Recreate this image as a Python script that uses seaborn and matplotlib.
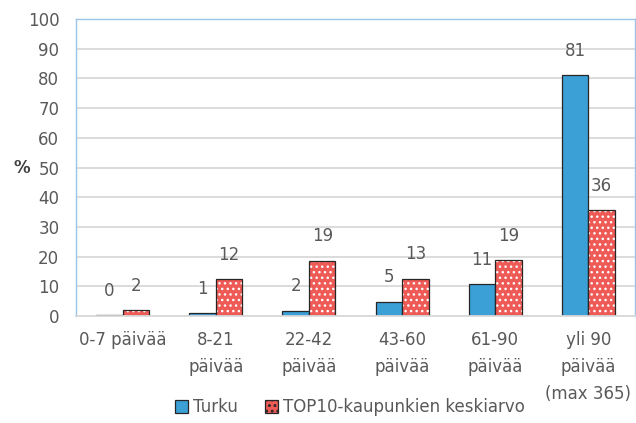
import pandas as pd
import numpy as np
import seaborn as sns
import matplotlib.pyplot as plt
from matplotlib.patches import Rectangle, Patch

# categories and values
categories = ['0-7 päivää', '8-21\npäivää', '22-42\npäivää', '43-60\npäivää',
              '61-90\npäivää', 'yli 90\npäivää\n(max 365)']
turku = [0.2, 1.0, 1.8, 4.8, 10.8, 81.0]
top10 = [2.0, 12.3, 18.6, 12.6, 18.7, 35.6]
series = ['Turku', 'TOP10-kaupunkien keskiarvo']

data = pd.DataFrame({
    'kategoria': categories * 2,
    'arvo': turku + top10,
    'sarja': [series[0]] * len(categories) + [series[1]] * len(categories),
})

sns.set_style('white')
plt.rcParams['font.family'] = ['DejaVu Sans']
text_color = '#595959'
blue = '#3AA0D6'
red = '#EE5A55'

fig = plt.figure(figsize=(6.36, 4.23), dpi=100)
ax = fig.add_axes([76 / 636, 1 - 316 / 423, (635 - 76) / 636, (316 - 19) / 423])

sns.barplot(data=data, x='kategoria', y='arvo', hue='sarja', order=categories,
            hue_order=series, palette=[blue, red], width=0.57, saturation=1,
            edgecolor='#262626', linewidth=0.9, legend=False, ax=ax)

# white dotted hatch on the TOP10 bars, dark outline drawn on top
n = len(categories)
bars = ax.patches[:2 * n]
plt.rcParams['hatch.linewidth'] = 1.3
for p in bars[n:]:
    p.set_edgecolor('white')
    p.set_linewidth(0)
    p.set_hatch('...')
    ax.add_patch(Rectangle(p.get_xy(), p.get_width(), p.get_height(), fill=False,
                           edgecolor='#262626', linewidth=0.9, zorder=p.get_zorder() + 0.1))

# value labels
for p in bars:
    ax.annotate(f'{round(p.get_height()):d}', (p.get_x() + p.get_width() / 2, p.get_height()),
                xytext=(0, 11), textcoords='offset points', ha='center', va='bottom',
                fontsize=12, color=text_color)

ax.set_ylim(0, 100)
ax.set_yticks(np.arange(0, 101, 10))
ax.set_xlim(-0.5, n - 0.5)
ax.yaxis.grid(True, color='#D9D9D9', linewidth=1.3)
ax.set_axisbelow(True)
for s in ['left', 'top', 'right']:
    ax.spines[s].set_color('#9DC3E6')
    ax.spines[s].set_linewidth(1)
ax.spines['bottom'].set_color('#D9D9D9')
ax.spines['bottom'].set_linewidth(1.3)
ax.tick_params(axis='both', length=0, labelsize=12, colors=text_color)
ax.tick_params(axis='x', pad=11)
ax.tick_params(axis='y', pad=12)
for lbl in ax.get_xticklabels():
    lbl.set_linespacing(1.65)
ax.set_xlabel('')
ax.set_ylabel('%', rotation=0, fontsize=12, fontweight='bold', color='#404040', labelpad=4,
              va='center')

handles = [Patch(facecolor=blue, edgecolor='#262626', linewidth=0.9),
           Patch(facecolor=red, edgecolor='#262626', linewidth=0.9, hatch='...')]
fig.legend(handles, series, loc='lower center', bbox_to_anchor=(0.55, -0.02), ncol=2,
           frameon=False, fontsize=12, labelcolor=text_color, handlelength=0.8,
           handleheight=0.8, handletextpad=0.3, columnspacing=1.6)

fig.savefig('out.png', dpi=100)
